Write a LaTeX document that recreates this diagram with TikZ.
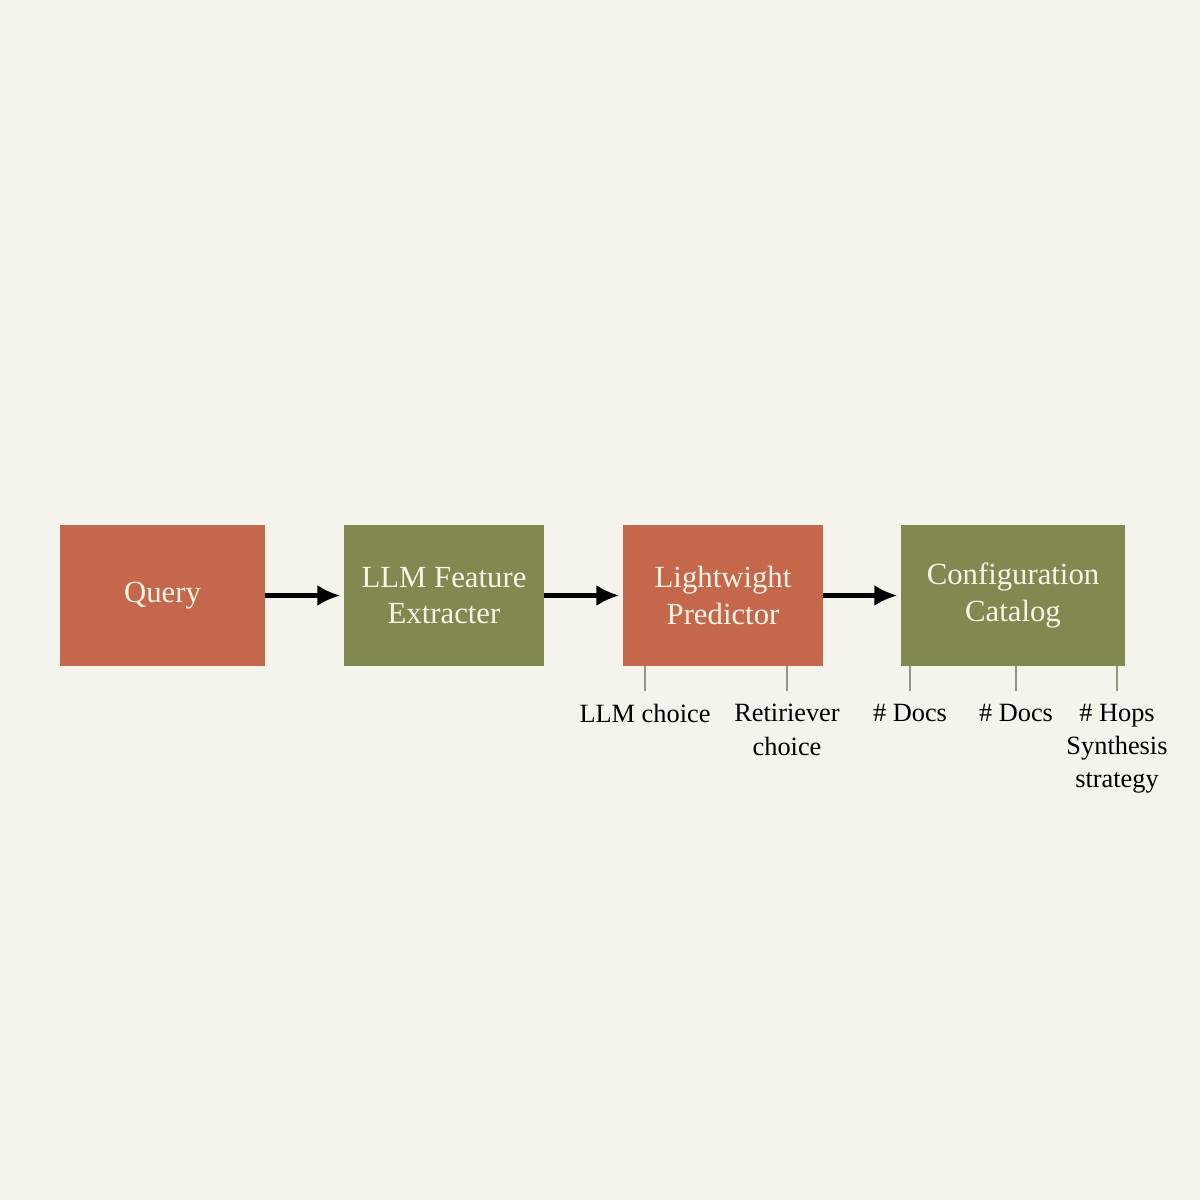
\documentclass[tikz,border=0pt]{standalone}
\usepackage{fontspec}
\setmainfont{Liberation Serif}
\usetikzlibrary{arrows.meta}
\definecolor{paper}{RGB}{245,244,236}
\definecolor{brick}{RGB}{196,103,74}
\definecolor{olive}{RGB}{131,136,80}
\definecolor{cream}{RGB}{250,244,232}
\definecolor{tickc}{RGB}{150,150,125}
\newcommand{\boxfont}{\fontsize{17.5}{20.6}\selectfont\setlength{\lineskiplimit}{-20pt}}
\newcommand{\labelfont}{\fontsize{15}{18.8}\selectfont\setlength{\lineskiplimit}{-20pt}}

\begin{document}
\begin{tikzpicture}
[x=0.02cm, y=-0.02cm,
box/.style={rectangle, draw=none, text=cream, align=center, font=\boxfont},
label/.style={anchor=north, align=center, inner xsep=1pt, inner ysep=7.5pt, font=\labelfont},
tick/.style={draw=tickc, line width=0.6pt},
flow/.style={-{Latex[length=13pt, width=12pt]}, line width=2.3pt, shorten >=2pt}]

\fill[paper] (0,0) rectangle (1200,1200);

\node[box, fill=brick, minimum width=4.1cm, minimum height=2.82cm] (1) at (162.5,595.5) {Query};
\node[box, fill=olive, minimum width=4cm, minimum height=2.82cm] (2) at (444,595.5) {LLM Feature \\ Extracter};
\node[box, fill=brick, minimum width=4cm, minimum height=2.82cm] (3) at (723,595.5) {Lightwight \\ Predictor};
\node[box, fill=olive, minimum width=4.48cm, minimum height=2.82cm] (4) at (1013,595.5) {Configuration \\ Catalog};

\node[label] (a) at (645,691) {LLM choice};
\node[label] (b) at (787,691) {Retiriever \\ choice};
\node[label] (c) at (910,691) {\# Docs};
\node[label] (d) at (1016,691) {\# Docs};
\node[label] (e) at (1117,691) {\# Hops \\ Synthesis \\ strategy};

\draw[flow] (1) -- (2);
\draw[flow] (2) -- (3);
\draw[flow] (3) -- (4);

\draw[tick] (a.north |- 3.south) -- (a.north);
\draw[tick] (b.north |- 3.south) -- (b.north);
\draw[tick] (c.north |- 4.south) -- (c.north);
\draw[tick] (d.north |- 4.south) -- (d.north);
\draw[tick] (e.north |- 4.south) -- (e.north);
\end{tikzpicture}
\end{document}
